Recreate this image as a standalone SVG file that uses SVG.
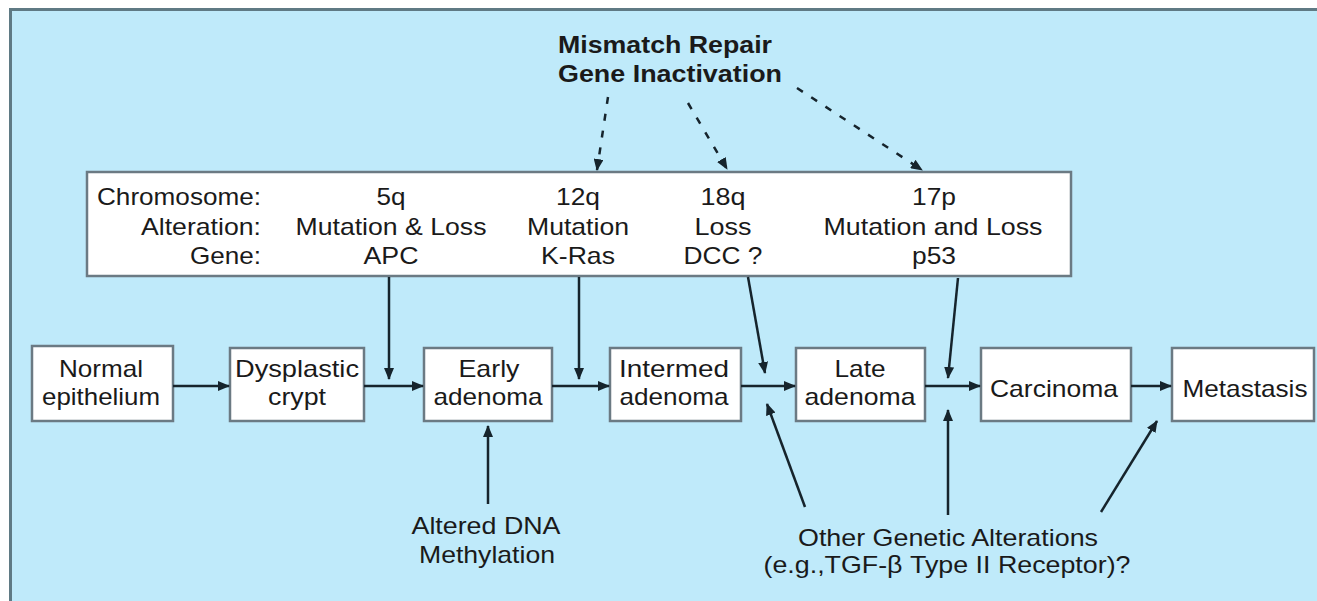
<svg xmlns="http://www.w3.org/2000/svg" width="1317" height="601" viewBox="0 0 1317 601">
<defs>
<style>
text{font-family:"Liberation Sans",Arial,sans-serif;font-size:24px;fill:#1a1a1a}
.b{font-weight:bold}
.m{text-anchor:middle}
.r{text-anchor:end}
.box{fill:#ffffff;stroke:#6b7a83;stroke-width:2.5}
.ln{stroke:#16242c;stroke-width:2.5;fill:none}
.dash{stroke:#16242c;stroke-width:2.5;fill:none;stroke-dasharray:7 10}
</style>
<marker id="ah" viewBox="0 0 12 10" refX="11" refY="5" markerWidth="12" markerHeight="10" markerUnits="userSpaceOnUse" orient="auto">
<path d="M0,0 L12,5 L0,10 Z" fill="#16242c"/>
</marker>
</defs>
<rect x="0" y="0" width="1317" height="601" fill="#ffffff"/>
<rect x="10.5" y="9.5" width="1320" height="600" fill="#bfeafa" stroke="#5f7a84" stroke-width="3"/>

<g id="mismatch">
<text class="b m" x="665" y="53" textLength="214" lengthAdjust="spacingAndGlyphs">Mismatch Repair</text>
<text class="b m" x="670" y="82" textLength="224" lengthAdjust="spacingAndGlyphs">Gene Inactivation</text>
</g>

<g id="chromosome-table">
<rect class="box" x="87" y="172" width="984" height="104"/>
<text class="r" x="261" y="205" textLength="164" lengthAdjust="spacingAndGlyphs">Chromosome:</text>
<text class="r" x="261" y="235" textLength="120" lengthAdjust="spacingAndGlyphs">Alteration:</text>
<text class="r" x="261" y="264" textLength="71" lengthAdjust="spacingAndGlyphs">Gene:</text>
<text class="m" x="391" y="205" textLength="29" lengthAdjust="spacingAndGlyphs">5q</text>
<text class="m" x="391" y="235" textLength="191" lengthAdjust="spacingAndGlyphs">Mutation &amp; Loss</text>
<text class="m" x="391" y="264" textLength="55" lengthAdjust="spacingAndGlyphs">APC</text>
<text class="m" x="578" y="205" textLength="44" lengthAdjust="spacingAndGlyphs">12q</text>
<text class="m" x="578" y="235" textLength="102" lengthAdjust="spacingAndGlyphs">Mutation</text>
<text class="m" x="578" y="264" textLength="74" lengthAdjust="spacingAndGlyphs">K-Ras</text>
<text class="m" x="723" y="205" textLength="45" lengthAdjust="spacingAndGlyphs">18q</text>
<text class="m" x="723" y="235" textLength="57" lengthAdjust="spacingAndGlyphs">Loss</text>
<text class="m" x="723" y="264" textLength="79" lengthAdjust="spacingAndGlyphs">DCC ?</text>
<text class="m" x="934" y="205" textLength="44" lengthAdjust="spacingAndGlyphs">17p</text>
<text class="m" x="933" y="235" textLength="219" lengthAdjust="spacingAndGlyphs">Mutation and Loss</text>
<text class="m" x="934" y="264" textLength="44" lengthAdjust="spacingAndGlyphs">p53</text>
</g>

<g id="normal">
<rect class="box" x="32" y="346" width="141" height="75"/>
<text class="m" x="101" y="377" textLength="84" lengthAdjust="spacingAndGlyphs">Normal</text>
<text class="m" x="101" y="405" textLength="118" lengthAdjust="spacingAndGlyphs">epithelium</text>
</g>
<g id="dysplastic">
<rect class="box" x="230" y="348" width="134" height="73"/>
<text class="m" x="297" y="377" textLength="124" lengthAdjust="spacingAndGlyphs">Dysplastic</text>
<text class="m" x="297" y="405" textLength="58" lengthAdjust="spacingAndGlyphs">crypt</text>
</g>
<g id="early">
<rect class="box" x="424" y="348" width="128" height="73"/>
<text class="m" x="489" y="377" textLength="61" lengthAdjust="spacingAndGlyphs">Early</text>
<text class="m" x="488" y="405" textLength="109" lengthAdjust="spacingAndGlyphs">adenoma</text>
</g>
<g id="intermed">
<rect class="box" x="610" y="348" width="131" height="73"/>
<text class="m" x="674" y="377" textLength="110" lengthAdjust="spacingAndGlyphs">Intermed</text>
<text class="m" x="674" y="405" textLength="109" lengthAdjust="spacingAndGlyphs">adenoma</text>
</g>
<g id="late">
<rect class="box" x="796" y="348" width="129" height="73"/>
<text class="m" x="860" y="377" textLength="51" lengthAdjust="spacingAndGlyphs">Late</text>
<text class="m" x="860" y="405" textLength="111" lengthAdjust="spacingAndGlyphs">adenoma</text>
</g>
<g id="carcinoma">
<rect class="box" x="981" y="348" width="150" height="73"/>
<text class="m" x="1054" y="397" textLength="128" lengthAdjust="spacingAndGlyphs">Carcinoma</text>
</g>
<g id="metastasis">
<rect class="box" x="1172" y="348" width="142" height="73"/>
<text class="m" x="1245" y="397" textLength="125" lengthAdjust="spacingAndGlyphs">Metastasis</text>
</g>

<g id="methylation">
<text class="m" x="486" y="534" textLength="149" lengthAdjust="spacingAndGlyphs">Altered DNA</text>
<text class="m" x="487" y="563" textLength="136" lengthAdjust="spacingAndGlyphs">Methylation</text>
</g>
<g id="other-alterations">
<text class="m" x="948" y="546" textLength="300" lengthAdjust="spacingAndGlyphs">Other Genetic Alterations</text>
<text class="m" x="947" y="573" textLength="367" lengthAdjust="spacingAndGlyphs">(e.g.,TGF-β Type II Receptor)?</text>
</g>

<g id="connectors">
<line class="dash" x1="608" y1="97" x2="597" y2="170" marker-end="url(#ah)"/>
<line class="dash" x1="688" y1="103" x2="727" y2="169" marker-end="url(#ah)"/>
<line class="dash" x1="797" y1="88" x2="922" y2="170" marker-end="url(#ah)"/>

<line class="ln" x1="173" y1="386" x2="229" y2="386" marker-end="url(#ah)"/>
<line class="ln" x1="364" y1="386" x2="423" y2="386" marker-end="url(#ah)"/>
<line class="ln" x1="552" y1="386" x2="609" y2="386" marker-end="url(#ah)"/>
<line class="ln" x1="741" y1="386" x2="795" y2="386" marker-end="url(#ah)"/>
<line class="ln" x1="925" y1="386" x2="980" y2="386" marker-end="url(#ah)"/>
<line class="ln" x1="1131" y1="386" x2="1171" y2="386" marker-end="url(#ah)"/>

<line class="ln" x1="389" y1="277" x2="389" y2="379" marker-end="url(#ah)"/>
<line class="ln" x1="579" y1="277" x2="579" y2="379" marker-end="url(#ah)"/>
<line class="ln" x1="748" y1="277" x2="765" y2="373" marker-end="url(#ah)"/>
<line class="ln" x1="958" y1="278" x2="948" y2="378" marker-end="url(#ah)"/>

<line class="ln" x1="488" y1="504" x2="488" y2="426" marker-end="url(#ah)"/>
<line class="ln" x1="805" y1="507" x2="767" y2="404" marker-end="url(#ah)"/>
<line class="ln" x1="948" y1="515" x2="948" y2="410" marker-end="url(#ah)"/>
<line class="ln" x1="1101" y1="512" x2="1157" y2="421" marker-end="url(#ah)"/>
</g>
</svg>
